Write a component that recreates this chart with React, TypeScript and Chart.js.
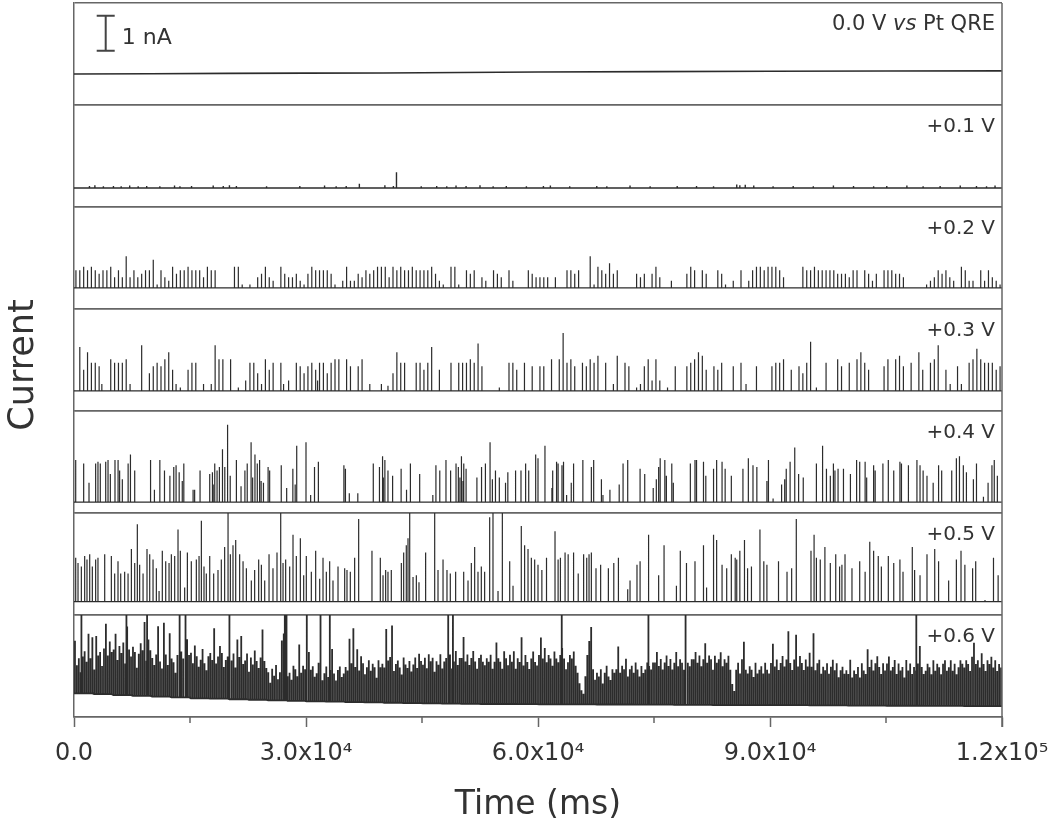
import React, { useEffect, useRef } from "react";
import { Chart, registerables } from "chart.js";

Chart.register(...registerables);

// ---------------- data (time in s, current in nA) ----------------
const PANEL_LABELS = ["0.0 V", "+0.1 V", "+0.2 V", "+0.3 V", "+0.4 V", "+0.5 V", "+0.6 V"];
const REF_ELECTRODE_PARTS = ["vs", " Pt QRE"]; // "vs" is italic
const X_TICK_VALUES_MS = [0, 30000, 60000, 90000, 120000];
const X_TICK_LABELS = ["0.0", "3.0x10\u2074", "6.0x10\u2074", "9.0x10\u2074", "1.2x10\u2075"];
const X_MINOR_TICKS_MS = [15000, 45000, 75000, 105000];
const X_TITLE = "Time (ms)";
const Y_TITLE = "Current";
const SCALE_BAR_LABEL = "1 nA";
const SCALE_BAR_NA = 1;

// 0.0 V: flat trace
const TRACE_00: [number, number][] = [
  [0, -0.06], [10, -0.05], [20, -0.04], [30, -0.035], [40, -0.03], [50, -0.015],
  [60, 0.0], [75, 0.01], [90, 0.02], [105, 0.025], [120, 0.03],
];

// +0.1 V: [time s, spike height nA]
const SPIKES_01: [number, number][] = [
  [2.0, 0.06], [2.7, 0.08], [3.8, 0.05], [5.1, 0.06], [6.1, 0.05], [7.2, 0.07], [8.3, 0.05], [9.4, 0.06],
  [11.1, 0.05], [13.0, 0.07], [13.7, 0.05], [15.2, 0.06], [18.0, 0.07], [19.3, 0.06], [20.1, 0.08], [21.0, 0.06],
  [24.9, 0.05], [29.2, 0.06], [32.4, 0.07], [33.9, 0.05], [35.2, 0.06], [36.9, 0.12], [40.2, 0.08], [41.3, 0.06],
  [41.7, 0.45], [44.9, 0.05], [46.9, 0.06], [48.2, 0.05], [49.4, 0.07], [50.7, 0.06], [52.5, 0.08], [54.2, 0.05],
  [55.9, 0.06], [58.5, 0.05], [60.7, 0.06], [61.6, 0.07], [64.1, 0.05], [67.6, 0.06], [68.9, 0.05], [71.9, 0.07],
  [74.5, 0.05], [78.0, 0.06], [80.5, 0.06], [82.7, 0.05], [85.7, 0.1], [86.1, 0.08], [86.8, 0.09], [87.9, 0.07],
  [90.4, 0.05], [93.0, 0.06], [95.6, 0.05], [98.2, 0.07], [100.8, 0.06], [103.4, 0.05], [105.1, 0.06], [107.7, 0.07],
  [109.8, 0.05], [112.0, 0.06], [114.6, 0.07], [116.7, 0.06], [118.0, 0.05], [119.1, 0.07],
];

// +0.2 V
const SPIKES_02: [number, number][] = [
  [0.25, 0.5], [0.75, 0.5], [1.25, 0.6], [1.75, 0.5], [2.25, 0.6], [2.75, 0.5], [3.25, 0.4], [3.75, 0.5], [4.25, 0.5], [4.75, 0.6],
  [5.25, 0.3], [5.75, 0.5], [6.25, 0.3], [6.75, 0.9], [7.25, 0.3], [7.75, 0.5], [8.25, 0.3], [8.75, 0.4], [9.25, 0.5], [9.75, 0.5],
  [10.25, 0.8], [10.75, 0.1], [11.25, 0.5], [11.75, 0.3], [12.25, 0.2], [12.75, 0.6], [13.25, 0.4], [13.75, 0.5], [14.25, 0.5], [14.75, 0.6],
  [15.25, 0.5], [15.75, 0.5], [16.25, 0.5], [16.75, 0.3], [17.25, 0.6], [17.75, 0.5], [18.25, 0.5],
  [20.75, 0.6], [21.25, 0.6], [21.75, 0.1], [22.75, 0.1], [23.75, 0.3], [24.25, 0.4], [24.75, 0.6],
  [25.25, 0.3], [25.75, 0.2], [26.75, 0.6], [27.25, 0.4], [27.75, 0.3], [28.25, 0.3], [28.75, 0.4], [29.25, 0.2], [29.75, 0.1],
  [30.25, 0.4], [30.75, 0.6], [31.25, 0.5], [31.75, 0.5], [32.25, 0.5], [32.75, 0.5], [33.25, 0.4], [33.75, 0.1], [34.75, 0.2],
  [35.25, 0.6], [35.75, 0.2], [36.25, 0.2], [36.75, 0.4], [37.25, 0.3], [37.75, 0.5], [38.25, 0.4], [38.75, 0.5], [39.25, 0.6], [39.75, 0.6],
  [40.25, 0.6], [40.75, 0.3], [41.25, 0.6], [41.75, 0.5], [42.25, 0.6], [42.75, 0.5], [43.25, 0.5], [43.75, 0.6], [44.25, 0.5], [44.75, 0.5],
  [45.25, 0.5], [45.75, 0.5], [46.25, 0.6], [46.75, 0.4], [47.25, 0.2], [47.75, 0.1], [48.75, 0.6], [49.25, 0.6], [49.75, 0.1],
  [50.75, 0.5], [51.25, 0.4], [51.75, 0.5], [52.75, 0.3], [53.25, 0.2], [54.25, 0.5], [54.75, 0.4],
  [55.25, 0.3], [56.25, 0.5], [56.75, 0.2], [58.75, 0.5], [59.25, 0.4], [59.75, 0.3], [60.25, 0.3],
  [60.75, 0.3], [61.25, 0.3], [62.25, 0.3], [63.75, 0.5], [64.25, 0.5], [64.75, 0.4], [65.25, 0.5],
  [66.75, 0.9], [67.25, 0.1], [67.75, 0.6], [68.25, 0.5], [68.75, 0.4], [69.25, 0.7], [69.75, 0.4], [70.25, 0.5],
  [72.75, 0.4], [73.25, 0.3], [73.75, 0.4], [74.75, 0.4], [75.25, 0.6],
  [75.75, 0.3], [77.25, 0.2], [79.25, 0.4], [79.75, 0.6], [80.25, 0.5],
  [81.25, 0.5], [81.75, 0.4], [83.25, 0.5], [83.75, 0.4], [84.25, 0.1], [85.25, 0.2],
  [86.25, 0.5], [87.25, 0.2], [87.75, 0.5], [88.25, 0.6], [88.75, 0.6], [89.25, 0.5], [89.75, 0.6], [90.25, 0.6],
  [90.75, 0.6], [91.25, 0.5], [91.75, 0.3], [94.25, 0.6], [94.75, 0.5], [95.25, 0.5],
  [95.75, 0.6], [96.25, 0.5], [96.75, 0.5], [97.25, 0.5], [97.75, 0.5], [98.25, 0.5], [98.75, 0.4], [99.25, 0.4], [99.75, 0.4], [100.25, 0.3],
  [100.75, 0.5], [101.25, 0.5], [102.25, 0.5], [102.75, 0.4], [103.25, 0.2], [103.75, 0.4], [104.75, 0.5], [105.25, 0.5],
  [105.75, 0.5], [106.25, 0.4], [106.75, 0.4], [107.25, 0.3], [110.25, 0.1],
  [110.75, 0.2], [111.25, 0.3], [111.75, 0.5], [112.25, 0.4], [112.75, 0.5], [113.25, 0.3], [113.75, 0.2], [114.75, 0.6], [115.25, 0.5],
  [115.75, 0.2], [116.25, 0.2], [117.25, 0.5], [117.75, 0.2], [118.25, 0.5], [118.75, 0.3], [119.25, 0.2], [119.75, 0.1],
];

// +0.3 V
const SPIKES_03: [number, number][] = [
  [0.75, 1.25], [1.25, 0.6], [1.75, 1.1], [2.25, 0.8], [2.75, 0.8], [3.25, 0.7], [3.6, 0.2], [4.75, 0.9], [5.25, 0.8], [5.75, 0.8],
  [6.25, 0.8], [6.75, 0.9], [7.25, 0.2], [8.75, 1.3], [9.75, 0.5], [10.25, 0.7], [10.75, 0.8], [11.25, 0.7], [11.75, 0.9], [12.25, 1.1],
  [12.75, 0.6], [13.2, 0.2], [13.75, 0.1], [14.75, 0.6], [15.25, 0.8], [15.75, 0.8], [16.75, 0.2], [17.75, 0.2], [18.25, 1.3], [18.75, 0.9],
  [19.25, 0.9], [20.25, 0.9], [21.25, 0.1], [22.2, 0.3], [22.75, 0.8], [23.25, 0.8], [23.75, 0.5], [24.25, 0.2], [24.75, 0.9], [25.25, 0.6],
  [25.75, 0.8], [26.75, 0.8], [27.1, 0.2], [27.75, 0.3], [28.75, 0.8], [29.25, 0.7], [29.75, 0.5], [30.25, 0.7], [30.75, 0.8], [31.25, 0.6],
  [31.5, 0.3], [31.75, 0.8], [32.25, 0.8], [32.75, 0.5], [33.25, 0.8], [33.75, 0.9], [34.25, 0.9], [35.25, 0.9], [35.75, 0.7], [36.75, 0.7],
  [37.25, 0.9], [38.25, 0.2], [39.75, 0.2], [40.6, 0.15], [41.25, 0.5], [41.75, 1.1], [42.25, 0.8], [42.75, 0.8], [44.25, 0.8], [44.75, 0.8],
  [45.25, 0.6], [45.75, 0.8], [46.25, 1.25], [47.25, 0.6], [48.75, 0.8], [49.75, 0.8], [50.25, 0.8], [50.75, 0.8], [51.25, 0.9], [51.75, 0.8],
  [52.25, 1.35], [52.75, 0.7], [55.0, 0.1], [56.25, 0.8], [56.75, 0.8], [57.25, 0.6], [58.25, 0.8], [59.25, 0.7], [60.25, 0.7],
  [60.75, 0.7], [61.75, 0.9], [62.75, 0.9], [63.25, 1.65], [63.75, 0.8], [64.25, 0.9], [64.75, 0.7], [65.75, 0.8], [66.25, 0.7], [66.75, 0.9],
  [67.25, 0.8], [67.75, 1.0], [68.75, 0.8], [69.75, 0.2], [70.25, 1.0], [71.25, 0.8], [71.75, 0.7], [72.75, 0.1], [73.25, 0.2], [73.75, 0.7],
  [74.25, 0.9], [74.75, 0.3], [75.25, 0.9], [75.75, 0.3], [76.75, 0.1], [77.75, 0.7], [79.25, 0.7], [79.75, 0.8], [80.25, 0.9], [80.75, 1.1],
  [81.25, 1.0], [81.75, 0.6], [82.75, 0.7], [83.25, 0.6], [83.75, 0.8], [85.25, 0.7], [86.25, 0.8], [86.9, 0.2], [88.25, 0.7], [90.25, 0.7],
  [90.75, 0.8], [91.25, 0.8], [91.75, 0.9], [92.75, 0.6], [93.75, 0.7], [94.25, 0.5], [94.75, 0.8], [95.25, 1.4], [96.0, 0.1], [97.25, 0.8],
  [98.75, 0.9], [99.25, 0.7], [100.25, 0.8], [101.25, 0.9], [101.75, 1.1], [102.25, 0.8], [102.75, 0.6], [104.75, 0.7], [105.25, 0.9], [106.25, 0.9],
  [106.75, 1.0], [107.25, 0.7], [108.25, 0.8], [109.25, 1.1], [109.75, 0.6], [110.75, 0.8], [111.25, 0.9], [111.75, 1.3], [112.75, 0.6], [113.3, 0.2],
  [114.25, 0.7], [114.75, 0.2], [115.75, 0.8], [116.25, 0.9], [116.75, 1.2], [117.25, 0.9], [117.75, 0.8], [118.25, 0.8], [118.75, 0.8], [119.25, 0.6],
  [119.75, 0.7],
];

// +0.4 V
const SPIKES_04: [number, number][] = [
  [0.22, 1.2], [1.25, 1.1], [1.94, 0.55], [2.8, 1.1], [3.1, 1.15], [3.4, 1.1], [4.1, 1.15], [4.4, 1.2], [4.7, 0.8], [5.3, 1.2],
  [5.7, 1.2], [5.9, 0.9], [6.25, 0.65], [7.0, 1.1], [7.3, 1.35], [7.85, 0.9], [9.9, 1.2], [10.4, 0.35], [11.1, 1.2], [11.7, 0.9],
  [12.4, 0.75], [12.9, 1.0], [13.2, 1.05], [13.6, 0.85], [14.0, 0.6], [14.2, 1.1], [15.4, 0.35], [15.6, 0.35], [16.3, 0.9], [17.55, 0.8],
  [17.9, 0.85], [18.0, 0.5], [18.2, 1.1], [18.5, 0.9], [18.8, 1.0], [19.2, 1.5], [19.5, 1.0], [19.8, 2.2], [19.9, 0.6], [20.2, 0.75],
  [21.0, 1.2], [21.6, 0.45], [22.1, 0.9], [22.4, 1.1], [22.9, 1.7], [23.1, 0.7], [23.4, 1.35], [23.7, 1.1], [24.0, 1.2], [24.2, 0.6],
  [24.5, 0.55], [25.1, 1.0], [25.3, 0.9], [26.8, 1.05], [27.5, 0.4], [28.3, 0.95], [28.6, 0.5], [28.8, 1.6], [30.0, 1.7], [30.6, 0.2],
  [31.1, 1.0], [31.6, 1.15], [34.9, 1.05], [35.1, 0.95], [35.6, 0.25], [36.7, 0.25], [38.7, 1.1], [39.5, 1.0], [39.9, 1.3], [40.0, 0.7],
  [40.2, 1.2], [40.6, 0.9], [41.2, 0.75], [42.3, 0.95], [43.0, 0.35], [43.5, 1.1], [44.7, 0.8], [46.4, 0.2], [46.8, 1.05], [47.3, 0.9],
  [48.1, 1.2], [48.7, 0.9], [49.4, 1.1], [49.7, 1.0], [49.9, 0.7], [50.1, 1.3], [50.3, 0.6], [50.4, 1.1], [50.7, 0.95], [52.1, 0.7],
  [52.7, 1.0], [53.2, 1.1], [53.8, 1.7], [54.1, 0.65], [54.5, 0.9], [55.0, 0.7], [55.8, 0.55], [56.1, 0.85], [57.1, 0.9], [57.8, 0.9],
  [58.4, 1.1], [58.8, 0.9], [59.7, 1.35], [60.0, 1.25],
  [60.9, 1.6], [61.8, 0.4], [61.9, 0.9], [62.4, 1.15], [62.6, 1.1], [63.1, 1.05], [63.3, 1.15], [63.7, 0.2], [64.3, 0.55], [64.6, 1.1],
  [65.8, 1.2], [66.9, 1.0], [67.2, 1.2], [68.2, 0.65], [68.4, 0.2], [69.3, 0.35], [70.5, 0.5], [71.0, 1.1], [71.6, 1.2], [73.2, 0.95],
  [73.8, 0.8], [74.9, 0.4], [75.3, 0.65], [75.6, 1.0], [75.8, 1.25], [76.4, 1.2], [76.6, 0.75], [77.3, 1.1], [77.5, 0.55], [79.7, 1.1],
  [80.3, 1.2], [80.5, 1.2], [81.4, 1.15], [81.7, 0.75], [82.7, 0.95], [83.1, 1.2], [83.8, 1.15], [84.2, 0.95], [85.0, 0.75], [86.5, 0.95],
  [87.2, 1.25], [87.8, 1.05], [88.3, 1.0], [89.6, 0.6], [89.8, 1.2], [90.4, 0.1], [91.5, 0.5], [91.9, 0.65], [92.1, 0.95], [92.6, 1.15],
  [93.2, 1.55], [93.7, 0.8], [94.3, 0.7], [96.0, 1.1], [96.8, 1.6], [97.3, 0.95], [97.8, 0.75], [98.2, 1.1], [98.4, 0.9], [98.8, 0.95],
  [99.5, 0.95], [100.4, 0.8], [101.2, 1.2], [101.6, 1.15], [102.3, 1.15], [102.5, 0.7], [103.4, 1.05], [103.6, 0.9], [104.6, 1.1], [105.3, 1.2],
  [106.0, 0.9], [106.8, 1.15], [107.0, 1.1], [107.9, 1.05], [109.0, 1.2], [109.4, 1.05], [109.8, 0.9], [110.3, 0.75], [111.1, 0.55], [111.8, 1.05],
  [112.2, 0.9], [113.5, 0.9], [114.1, 1.25], [114.5, 1.3], [115.0, 1.05], [115.4, 0.85], [116.3, 0.65], [116.7, 1.1], [117.6, 0.15], [118.2, 0.55],
  [118.7, 1.05], [119.0, 1.2], [119.4, 0.75],
];

// +0.5 V
const SPIKES_05: [number, number][] = [
  [0.22, 1.25], [0.52, 1.1], [0.95, 1.0], [1.38, 1.3], [1.68, 1.2], [2.03, 1.35], [2.37, 1.0], [2.8, 1.2], [3.1, 1.25], [3.97, 1.35],
  [4.83, 1.3], [5.26, 0.8], [5.69, 1.15], [6.04, 0.8], [6.55, 0.85], [6.99, 0.8], [7.42, 1.5], [7.85, 1.1], [8.19, 2.2], [8.49, 1.05],
  [8.93, 0.8], [9.44, 1.5], [9.79, 1.35], [10.22, 1.2], [10.65, 0.95], [11.0, 0.3], [11.42, 1.45], [11.86, 1.15], [12.29, 1.1], [12.59, 1.35],
  [13.02, 1.3], [13.45, 2.05], [13.75, 1.45], [14.31, 0.4], [14.66, 1.4], [15.17, 1.15], [15.82, 1.2], [16.17, 1.3], [16.47, 2.3], [16.81, 1.0],
  [17.11, 0.8], [17.55, 1.3], [18.06, 0.8], [18.62, 0.9], [19.05, 1.2], [19.48, 1.55], [19.92, 2.7], [20.22, 1.35], [20.56, 1.6], [20.91, 1.75],
  [21.42, 1.35], [21.86, 1.15], [22.29, 0.95], [22.93, 0.6], [23.36, 0.9], [23.88, 1.2], [24.23, 1.05], [24.66, 0.6], [25.22, 1.35], [25.73, 0.95],
  [26.25, 1.4], [26.73, 2.7], [27.03, 1.1], [27.37, 1.2], [27.89, 1.0], [28.32, 1.9], [28.75, 1.3], [29.27, 1.8], [29.7, 0.75], [30.04, 1.3],
  [30.69, 0.85], [31.25, 1.45], [31.77, 0.65], [32.2, 1.25], [32.63, 0.85], [33.06, 1.15], [33.49, 0.6], [34.14, 1.0], [35.0, 0.95], [35.3, 0.9],
  [35.73, 0.85], [36.29, 1.25], [36.81, 2.35], [38.53, 1.45], [39.61, 1.25], [39.96, 0.75], [40.3, 0.9], [40.6, 0.85], [41.03, 0.9], [42.33, 1.1],
  [42.63, 1.4], [42.97, 1.6], [43.19, 1.8], [43.41, 2.7], [43.84, 0.7], [44.27, 0.75], [44.61, 0.55], [45.47, 1.4], [46.64, 2.7], [47.07, 0.9],
  [47.72, 1.2], [48.23, 0.9], [48.66, 0.8], [49.35, 0.85], [50.39, 0.85], [50.95, 0.6], [51.38, 1.1], [51.81, 1.55], [52.24, 0.85], [52.67, 1.0],
  [53.1, 0.85], [53.75, 2.4], [54.18, 2.7], [54.83, 0.3], [55.39, 2.7], [56.34, 1.15], [56.77, 0.45], [57.84, 2.15], [58.27, 1.6], [58.71, 1.5],
  [59.14, 1.25], [59.57, 1.2], [60.0, 1.05],
  [60.5, 0.9], [61.1, 1.25], [62.2, 2.0], [62.6, 1.2], [62.9, 1.25], [63.5, 1.4], [63.9, 1.35], [64.6, 1.4], [65.2, 0.8], [65.9, 1.35],
  [66.3, 1.25], [66.6, 1.35], [66.9, 1.4], [67.5, 0.95], [68.1, 1.05], [69.1, 0.95], [69.8, 1.1], [70.4, 1.25], [71.6, 0.35], [71.9, 0.6],
  [72.8, 1.05], [73.2, 1.15], [74.3, 1.9], [75.6, 0.75], [76.3, 1.6], [77.9, 0.45], [78.4, 1.45], [79.2, 1.1], [80.3, 1.15], [81.4, 1.6],
  [81.8, 0.4], [82.7, 1.9], [83.1, 1.75], [83.8, 1.05], [84.4, 0.95], [85.0, 1.35], [85.5, 1.25], [85.7, 1.2], [86.1, 1.45], [86.7, 1.75],
  [87.1, 0.95], [87.6, 1.0], [88.7, 2.05], [89.2, 1.15], [89.6, 1.05], [91.1, 1.15], [92.2, 0.85], [92.8, 0.95], [93.4, 2.35], [95.3, 1.45],
  [95.7, 1.9], [96.0, 1.25], [96.5, 1.2], [97.1, 1.55], [97.8, 1.1], [98.5, 1.35], [99.0, 1.0], [99.3, 1.05], [99.7, 1.35], [100.6, 0.95],
  [101.6, 1.15], [102.3, 0.85], [102.9, 1.7], [103.4, 1.45], [104.0, 1.3], [104.4, 1.0], [105.3, 1.3], [106.0, 1.1], [106.8, 1.2], [107.2, 0.85],
  [108.4, 1.55], [108.7, 0.9], [109.4, 0.75], [110.3, 1.35], [111.3, 1.5], [111.8, 1.15], [113.1, 0.6], [114.1, 1.2], [114.7, 1.45], [115.2, 1.05],
  [116.2, 0.95], [116.6, 1.15], [117.8, 0.05], [118.9, 1.25], [119.5, 0.75],
];

// +0.6 V: dense record sampled every 0.25 s (height above baseline, nA)
const DENSE_STEP_S = 0.25;
const SPIKES_06_DENSE: number[] = [
  1.5, 0.8, 1.0, 0.6, 1.05, 1.2, 0.9, 1.7, 1.0, 1.6, 0.7, 1.65, 1.1, 1.2, 0.8, 1.3, 2.0, 1.1, 1.5, 1.2,
  1.3, 1.75, 1.0, 1.4, 1.2, 1.5, 0.9, 1.95, 1.3, 1.1, 1.4, 1.25, 0.8, 1.2, 1.5, 1.3, 2.1, 1.0, 1.6, 1.3,
  1.1, 0.9, 1.2, 2.0, 1.0, 0.8, 2.1, 1.2, 0.9, 1.8, 1.1, 1.0, 0.7, 1.2, 1.0, 1.3, 1.1, 0.9, 1.65, 1.2,
  1.3, 1.0, 1.5, 1.2, 0.9, 1.1, 1.4, 1.0, 0.8, 1.2, 1.3, 1.1, 2.0, 1.0, 1.2, 1.5, 1.3, 0.9, 1.1, 1.2,
  1.0, 1.1, 1.3, 0.9, 1.7, 1.2, 1.8, 1.0, 1.1, 1.3, 0.8, 1.2, 1.0, 1.4, 1.1, 0.9, 1.2, 2.0, 1.1, 0.9,
  0.8, 0.5, 0.9, 0.7, 1.0, 0.6, 0.8, 1.7, 1.9, 0.9, 0.7, 0.8, 0.6, 1.0, 0.9, 0.7, 1.6, 0.8, 1.0, 0.9,
  0.8, 1.4, 0.9, 1.0, 0.7, 0.8, 1.1, 0.9, 0.6, 0.8, 1.0, 0.7, 0.9, 1.5, 0.8, 0.6, 0.9, 1.0, 0.7, 0.8,
  1.0, 0.9, 1.8, 1.1, 2.1, 1.0, 1.5, 0.9, 1.3, 1.1, 0.8, 1.0, 1.2, 0.9, 1.1, 1.0, 0.7, 1.2, 1.0, 1.1,
  1.0, 2.1, 1.2, 1.3, 2.2, 0.9, 1.1, 1.2, 1.0, 0.8, 1.3, 1.1, 1.0, 1.2, 0.9, 1.1, 1.3, 1.0, 1.4, 1.2,
  1.1, 1.3, 1.0, 1.4, 1.2, 1.3, 0.9, 1.2, 1.1, 1.4, 1.0, 1.2, 1.3, 1.1, 1.4, 1.0, 1.2, 1.5, 1.1, 1.3,
  1.3, 1.9, 1.2, 1.4, 1.1, 1.3, 1.5, 1.2, 1.0, 1.3, 1.4, 1.2, 1.1, 1.3, 1.2, 1.4, 1.0, 1.2, 1.75, 1.3,
  1.2, 1.0, 1.5, 1.3, 1.1, 1.4, 1.2, 1.5, 1.0, 1.3, 1.2, 1.9, 1.1, 1.4, 1.2, 1.0, 1.3, 1.5, 1.2, 1.1,
  1.4, 1.9, 1.3, 1.6, 1.2, 1.4, 1.3, 1.1, 1.5, 1.3, 1.2, 1.4, 1.6, 1.3, 1.0, 1.2, 1.4, 1.3, 1.5, 1.1,
  0.9, 0.6, 0.4, 0.3, 0.8, 1.4, 1.8, 2.2, 1.0, 0.7, 0.9, 0.8, 1.0, 0.6, 0.9, 1.1, 0.8, 0.7, 1.0, 0.9,
  1.0, 1.65, 0.9, 1.1, 1.0, 1.3, 0.8, 1.0, 1.1, 0.9, 1.2, 1.0, 0.8, 1.1, 0.9, 1.0, 1.2, 1.1, 1.0, 1.2,
  1.2, 1.5, 1.1, 1.3, 1.0, 1.2, 1.4, 1.1, 1.3, 1.0, 1.2, 1.5, 1.1, 1.3, 1.2, 1.0, 1.4, 1.2, 1.1, 1.3,
  1.3, 1.5, 1.2, 1.4, 1.1, 1.3, 1.75, 1.2, 1.4, 1.3, 1.0, 1.4, 1.2, 1.3, 1.5, 1.1, 1.3, 1.2, 1.4, 1.0,
  0.6, 0.4, 1.0, 1.2, 0.9, 1.3, 1.8, 1.0, 0.9, 1.1, 1.0, 0.8, 1.2, 0.9, 1.0, 1.1, 0.9, 1.2, 1.0, 0.9,
  1.2, 1.75, 1.1, 1.3, 1.0, 1.2, 1.4, 1.1, 1.3, 2.1, 1.2, 1.0, 1.3, 2.0, 1.1, 1.4, 1.2, 1.0, 1.3, 1.1,
  1.5, 1.1, 2.05, 1.0, 1.2, 1.3, 0.9, 1.1, 1.0, 1.2, 0.9, 1.1, 1.3, 1.0, 1.2, 0.8, 1.0, 1.1, 0.9, 1.0,
  0.9, 1.3, 0.8, 1.0, 0.9, 1.1, 0.8, 1.2, 1.0, 0.9, 1.6, 1.1, 1.3, 1.0, 1.2, 1.4, 1.1, 0.9, 1.2, 1.0,
  1.2, 1.4, 1.0, 1.1, 1.3, 0.9, 1.2, 1.0, 1.1, 0.8, 1.3, 1.0, 1.2, 0.9, 1.1, 1.0, 1.2, 1.7, 1.1, 0.9,
  1.0, 1.2, 1.1, 0.9, 1.3, 1.0, 1.2, 1.1, 0.9, 1.2, 1.3, 1.0, 1.1, 1.3, 1.0, 1.2, 0.9, 1.1, 1.3, 1.2,
  1.1, 1.3, 1.2, 1.0, 1.4, 1.8, 1.2, 1.3, 1.1, 1.5, 1.2, 1.0, 1.3, 1.2, 1.4, 1.1, 1.3, 1.0, 1.2, 1.1,
];
// +0.6 V: off-scale events [time s, height nA]
const SPIKES_06_TALL: [number, number][] = [
  [0.96, 2.7], [6.78, 2.7], [9.45, 2.7], [13.68, 2.7], [14.45, 2.7], [20.06, 2.7], [27.26, 2.7], [27.48, 2.7], [30.07, 2.7],
  [31.88, 2.7], [33.08, 2.7], [48.4, 2.7], [49.0, 2.7], [63.07, 2.7], [74.28, 2.7], [79.02, 2.7], [108.92, 2.7],
];
// +0.6 V: decaying baseline, one value per 2.5 s (nA)
const BASELINE_STEP_S = 2.5;
const BASELINE_06: number[] = [
  0.36, 0.34, 0.31, 0.29, 0.27, 0.25, 0.22, 0.21, 0.195, 0.18, 0.165, 0.15,
  0.135, 0.125, 0.115, 0.105, 0.095, 0.085, 0.075, 0.07, 0.065, 0.06, 0.06, 0.055,
  0.05, 0.05, 0.05, 0.045, 0.045, 0.04, 0.04, 0.035, 0.035, 0.03, 0.03, 0.03,
  0.025, 0.025, 0.02, 0.02, 0.015, 0.015, 0.01, 0.01, 0.005, 0.005, 0, 0,
];

// ---------------- layout / style ----------------
const W = 1050;
const H = 829;
const FONT = '"DejaVu Sans", "Liberation Sans", sans-serif';
const TEXT = "#333333";
const FRAME = "#666666";
const TRACE = "#2c2c2c";
const PANEL_SPAN_NA = 2.9;
const PANEL_ZERO_NA = [0.94, 0.54, 0.6, 0.57, 0.31, 0.38, 0.31];
const SCALE_BAR_T_MS = 4100;
const SCALE_BAR_FROM_NA = 0.6;

type P = { x: number; y: number };

function spikeTrain(spikes: [number, number][], baseAt: (t: number) => number = () => 0): P[] {
  const sorted = spikes.slice().sort((a, b) => a[0] - b[0]);
  const pts: P[] = [{ x: 0, y: baseAt(0) }];
  for (const [t, h] of sorted) {
    const b = baseAt(t);
    const x = t * 1000;
    pts.push({ x, y: b }, { x, y: b + h }, { x, y: b });
  }
  pts.push({ x: 120000, y: baseAt(119.99) });
  return pts;
}

function lineDataset(panel: number, data: P[], width: number) {
  return {
    data,
    xAxisID: "x",
    yAxisID: "p" + panel,
    borderColor: TRACE,
    borderWidth: width,
    borderJoinStyle: "bevel" as const,
    pointRadius: 0,
    tension: 0,
    fill: false,
  };
}

const decorPlugin = {
  id: "decor",
  afterDraw(chart: any) {
    const { ctx, chartArea, scales } = chart;
    ctx.save();
    // right frame edge
    ctx.strokeStyle = FRAME;
    ctx.lineWidth = 1.5;
    ctx.beginPath();
    ctx.moveTo(chartArea.right, chartArea.top);
    ctx.lineTo(chartArea.right, chartArea.bottom + 10);
    ctx.stroke();
    // minor ticks
    ctx.beginPath();
    for (const v of X_MINOR_TICKS_MS) {
      const px = scales.x.getPixelForValue(v);
      ctx.moveTo(px, chartArea.bottom);
      ctx.lineTo(px, chartArea.bottom + 6);
    }
    ctx.stroke();

    // panel labels
    ctx.fillStyle = TEXT;
    ctx.textBaseline = "alphabetic";
    ctx.textAlign = "right";
    PANEL_LABELS.forEach((label, i) => {
      const s = scales["p" + i];
      const size = i === 0 ? 21 : 20;
      const yb = s.top + 12 + size * 0.73;
      let x = chartArea.right - 7;
      if (i === 0) {
        ctx.font = `${size}px ${FONT}`;
        ctx.fillText(REF_ELECTRODE_PARTS[1], x, yb);
        x -= ctx.measureText(REF_ELECTRODE_PARTS[1]).width;
        ctx.font = `italic ${size}px ${FONT}`;
        ctx.fillText(REF_ELECTRODE_PARTS[0], x, yb);
        x -= ctx.measureText(REF_ELECTRODE_PARTS[0]).width;
        ctx.font = `${size}px ${FONT}`;
        ctx.fillText(label + " ", x, yb);
      } else {
        ctx.font = `${size}px ${FONT}`;
        ctx.fillText(label, x, yb);
      }
    });

    // scale bar (1 nA) in the top panel
    const p0 = scales.p0;
    const bx = scales.x.getPixelForValue(SCALE_BAR_T_MS);
    const y1 = p0.getPixelForValue(SCALE_BAR_FROM_NA);
    const y2 = p0.getPixelForValue(SCALE_BAR_FROM_NA + SCALE_BAR_NA);
    ctx.strokeStyle = "#444";
    ctx.lineWidth = 2;
    ctx.beginPath();
    ctx.moveTo(bx, y1);
    ctx.lineTo(bx, y2);
    ctx.moveTo(bx - 9, y1);
    ctx.lineTo(bx + 9, y1);
    ctx.moveTo(bx - 9, y2);
    ctx.lineTo(bx + 9, y2);
    ctx.stroke();
    ctx.textAlign = "left";
    ctx.font = `22px ${FONT}`;
    ctx.fillText(SCALE_BAR_LABEL, bx + 16, (y1 + y2) / 2 + 10.5);

    // y title
    ctx.save();
    ctx.translate(33, (chartArea.top + chartArea.bottom) / 2 + 5);
    ctx.rotate(-Math.PI / 2);
    ctx.textAlign = "center";
    ctx.textBaseline = "alphabetic";
    ctx.font = `35px ${FONT}`;
    ctx.fillText(Y_TITLE, 0, 0);
    ctx.restore();

    ctx.restore();
  },
};

export default function App() {
  const ref = useRef<HTMLCanvasElement | null>(null);

  useEffect(() => {
    if (!ref.current) return;

    const datasets: any[] = [];
    datasets.push(lineDataset(0, TRACE_00.map(([t, v]) => ({ x: t * 1000, y: v })), 1.6));
    [SPIKES_01, SPIKES_02, SPIKES_03, SPIKES_04, SPIKES_05].forEach((sp, j) => {
      datasets.push(lineDataset(j + 1, spikeTrain(sp), j === 0 ? 1.4 : 1.2));
    });
    const dense: [number, number][] = SPIKES_06_DENSE.map((h, k) => [(k + 0.5) * DENSE_STEP_S, h]);
    const base06 = (t: number) =>
      BASELINE_06[Math.min(BASELINE_06.length - 1, Math.floor(t / BASELINE_STEP_S))];
    datasets.push(lineDataset(6, spikeTrain(dense.concat(SPIKES_06_TALL), base06), 1.8));

    const scales: any = {
      x: {
        type: "linear",
        position: "bottom",
        min: 0,
        max: 120000,
        afterBuildTicks: (s: any) => {
          s.ticks = X_TICK_VALUES_MS.map((v) => ({ value: v }));
        },
        afterFit: (s: any) => {
          s.height = 112;
          s.paddingLeft = 0;
          s.paddingRight = 0;
        },
        ticks: {
          autoSkip: false,
          maxRotation: 0,
          padding: 12,
          color: TEXT,
          font: { family: FONT, size: 24 },
          callback: (v: number) => X_TICK_LABELS[X_TICK_VALUES_MS.indexOf(v)] ?? "",
        },
        grid: { display: true, drawOnChartArea: false, drawTicks: true, tickLength: 10, tickColor: FRAME, tickWidth: 1.5 },
        border: { display: true, color: FRAME, width: 1.5 },
        title: {
          display: true,
          text: X_TITLE,
          color: TEXT,
          font: { family: FONT, size: 33 },
          padding: { top: 10, bottom: 4 },
        },
      },
    };
    for (let i = 6; i >= 0; i--) {
      scales["p" + i] = {
        type: "linear",
        position: "left",
        stack: "panels",
        stackWeight: 1,
        min: -PANEL_ZERO_NA[i],
        max: PANEL_SPAN_NA - PANEL_ZERO_NA[i],
        afterBuildTicks: (s: any) => {
          s.ticks = [{ value: s.min }, { value: s.max }];
        },
        ticks: { display: false },
        grid: { display: true, drawTicks: false, color: FRAME, lineWidth: 1.5 },
        border: { display: true, color: FRAME, width: 1.5 },
      };
    }

    const chart = new Chart(ref.current, {
      type: "line",
      data: { datasets },
      options: {
        animation: false,
        responsive: true,
        maintainAspectRatio: false,
        events: [],
        layout: { padding: { left: 74, right: 48, top: 3, bottom: 0 } },
        plugins: { legend: { display: false }, tooltip: { enabled: false } },
        scales,
      } as any,
      plugins: [decorPlugin],
    });
    return () => chart.destroy();
  }, []);

  return (
    <div style={{ position: "fixed", left: 0, top: 0, width: W, height: H, background: "#fff" }}>
      <canvas ref={ref} />
    </div>
  );
}
